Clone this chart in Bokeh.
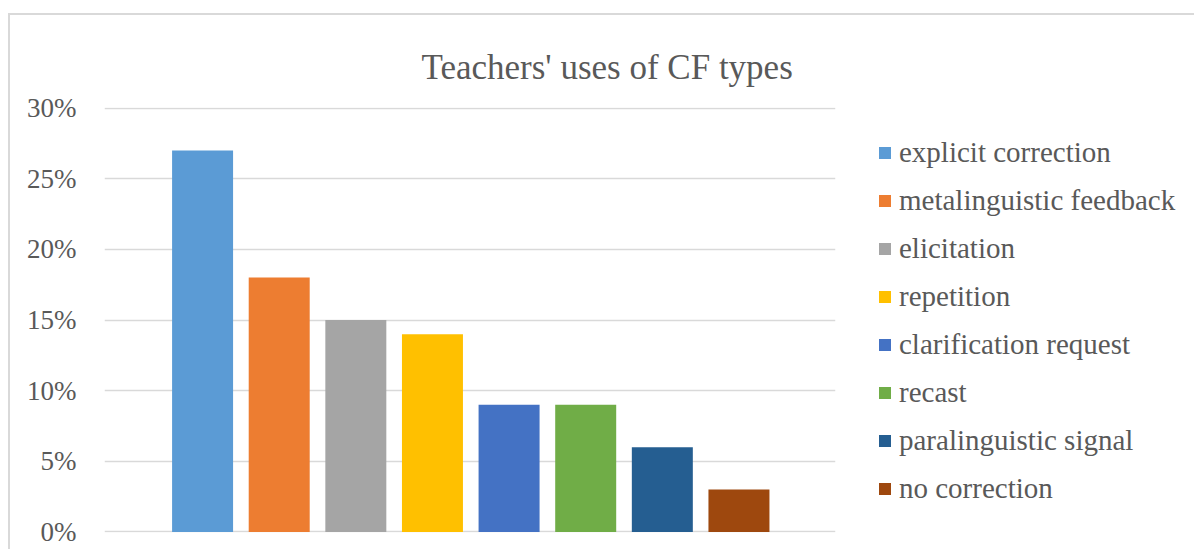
from bokeh.plotting import figure
from bokeh.models import ColumnDataSource, Range1d, NumeralTickFormatter, FixedTicker, Legend, LegendItem, Title
from bokeh.embed import file_html
from bokeh.resources import INLINE

categories = ["explicit correction", "metalinguistic feedback", "elicitation", "repetition",
              "clarification request", "recast", "paralinguistic signal", "no correction"]
values = [0.27, 0.18, 0.15, 0.14, 0.09, 0.09, 0.06, 0.03]
colors = ["#5B9BD5", "#ED7D31", "#A5A5A5", "#FFC000", "#4472C4", "#70AD47", "#255E91", "#9E480E"]
ticks = [0, 0.05, 0.10, 0.15, 0.20, 0.25, 0.30]
title_text = "Teachers' uses of CF types"

FONT = "Liberation Serif"
TXT = "#595959"

src = ColumnDataSource(dict(x=list(range(1, len(values) + 1)), top=values, color=colors, label=categories))

p = figure(frame_width=731, frame_height=425, min_border_left=94, min_border_right=350,
           min_border_top=92, min_border_bottom=17,
           x_range=Range1d(-0.28, 9.26), y_range=Range1d(-0.0004, 0.3004),
           output_backend="svg", toolbar_location=None, title=None)
p.margin = (13, 0, 0, 8)
p.styles = {"border-top": "2px solid #d9d9d9", "border-left": "2px solid #d9d9d9"}

r = p.vbar(x="x", top="top", width=0.796, bottom=0, color="color", source=src, line_color=None)

p.xaxis.visible = False
p.xgrid.visible = False
p.ygrid.grid_line_color = "#d9d9d9"
p.ygrid.grid_line_width = 1.5
p.yaxis.ticker = FixedTicker(ticks=ticks)
p.yaxis.formatter = NumeralTickFormatter(format="0%")
p.yaxis.axis_line_color = None
p.yaxis.major_tick_line_color = None
p.yaxis.minor_tick_line_color = None
p.yaxis.major_label_standoff = 22
p.yaxis.major_label_text_font = FONT
p.yaxis.major_label_text_font_size = "27px"
p.yaxis.major_label_text_color = TXT
p.outline_line_color = None

t = Title(text=title_text, align="left", offset=317, text_font=FONT, text_font_size="35px",
          text_color=TXT, text_font_style="normal", standoff=41)
p.add_layout(t, "above")

items = [LegendItem(label=c, renderers=[r], index=i) for i, c in enumerate(categories)]
legend = Legend(items=items, location=(42, 26), orientation="vertical",
                glyph_width=15, glyph_height=15, label_height=36, spacing=12,
                label_standoff=7, padding=0, margin=0,
                border_line_color=None, background_fill_alpha=0,
                label_text_font=FONT, label_text_font_size="29px", label_text_color=TXT)
p.add_layout(legend, "right")

open("out.html", "w").write(file_html(p, INLINE))
